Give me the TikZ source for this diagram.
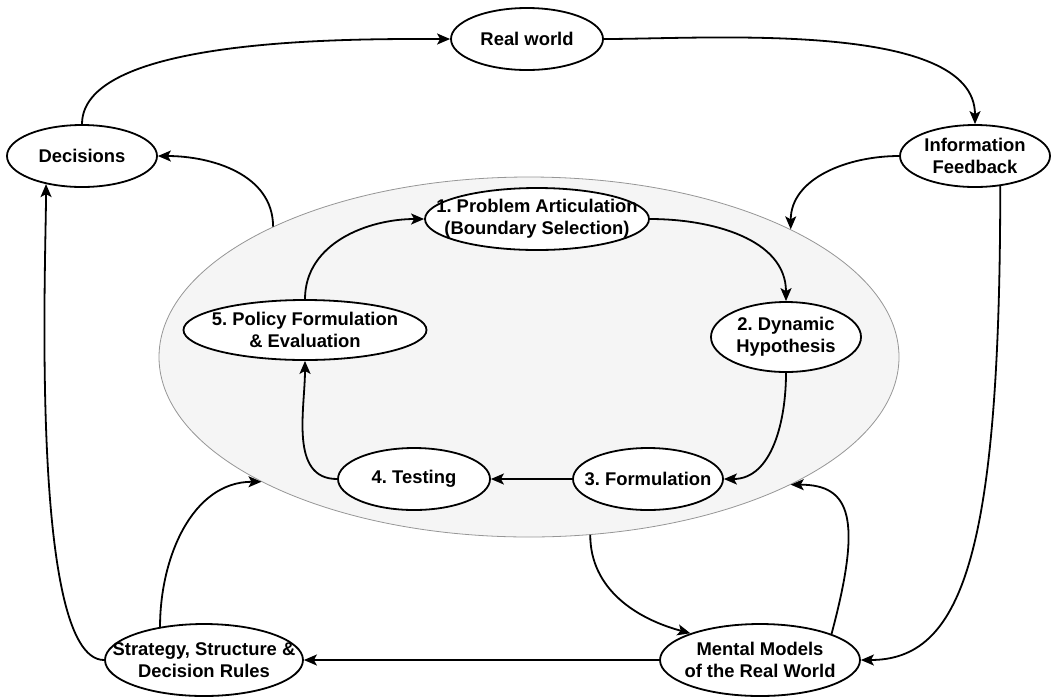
\documentclass[tikz,border=0pt]{standalone}
\usepackage{fontspec}
\setmainfont{Liberation Sans}
\usepackage{tikz}
\usepackage{xcolor}
\usetikzlibrary{shapes,arrows.meta,positioning,calc}
\definecolor{cyclegray}{RGB}{245,245,245}
\definecolor{rimgray}{RGB}{150,150,150}
\frenchspacing

\begin{document}
\begin{tikzpicture}[x=1pt, y=1pt,
  font=\bfseries\fontsize{18.4}{22}\selectfont,
  box/.style={ellipse, draw, line width=1.8pt, fill=white, align=center, inner xsep=-45pt, inner ysep=-30pt},
  link/.style={line width=1.8pt, -{Stealth[length=13pt, width=11pt, inset=3pt]}}]
\useasboundingbox (0,0) rectangle (1054,-697);

\node[ellipse, draw=rimgray, line width=0.8pt, fill=cyclegray, inner sep=0pt, minimum width=740pt, minimum height=360pt] (cyc) at (529,-357) {};

\node[box, minimum width=152pt, minimum height=62pt] (world) at (527,-39) {Real world};
\node[box, minimum width=150pt, minimum height=62pt] (dec) at (82,-156) {Decisions};
\node[box, minimum width=150pt, minimum height=62pt] (info) at (975,-156) {Information\\Feedback};
\node[box, minimum width=198pt, minimum height=72pt] (strat) at (204,-660) {Strategy, Structure \&\\Decision Rules};
\node[box, minimum width=200pt, minimum height=72pt] (mm) at (760,-660) {Mental Models\\of the Real World};

\node[box, minimum width=224pt, minimum height=62pt] (p1) at (537,-219) {1. Problem Articulation\\(Boundary Selection)};
\node[box, minimum width=150pt, minimum height=70pt] (p2) at (786,-337) {2. Dynamic\\Hypothesis};
\node[box, minimum width=150pt, minimum height=62pt] (p3) at (648,-479) {3. Formulation};
\node[box, minimum width=152pt, minimum height=62pt] (p4) at (414,-479) {4. Testing};
\node[box, minimum width=243pt, minimum height=60pt] (p5) at (305,-330) {5. Policy Formulation\\\& Evaluation};

% outer loop
\draw[link] (dec.north) to[out=90, in=180, looseness=0.6] (world.west);
\draw[link] (world.east) to[out=0, in=90, looseness=0.7] (info.north);
\draw[link] (info.west) to[out=180, in=90] (cyc.26.5);
\draw[link] (info.310) to[out=270, in=0, out distance=372pt, in distance=100pt] (mm.east);
\draw[link] (mm.west) -- (strat.east);
\draw[link] (strat.west) to[out=180, in=270, looseness=0.4] (dec.218);
\draw[link] (strat.143) to[out=90, in=180] (cyc.205.5);
\draw[link] (cyc.289.7) to[out=270, in=165] (mm.159.7);
\draw[link] (mm.20.7) to[out=75, in=0, out distance=120pt, in distance=60pt] (cyc.334.4);
\draw[link] (cyc.153.8) to[out=90, in=0] (dec.east);

% modelling steps
\draw[link] (p5.north) to[out=90, in=180] (p1.west);
\draw[link] (p1.east) to[out=0, in=90] (p2.north);
\draw[link] (p2.south) to[out=270, in=0] (p3.east);
\draw[link] (p3.west) -- (p4.east);
\draw[link] (p4.west) to[out=180, in=270] (p5.south);
\end{tikzpicture}
\end{document}
